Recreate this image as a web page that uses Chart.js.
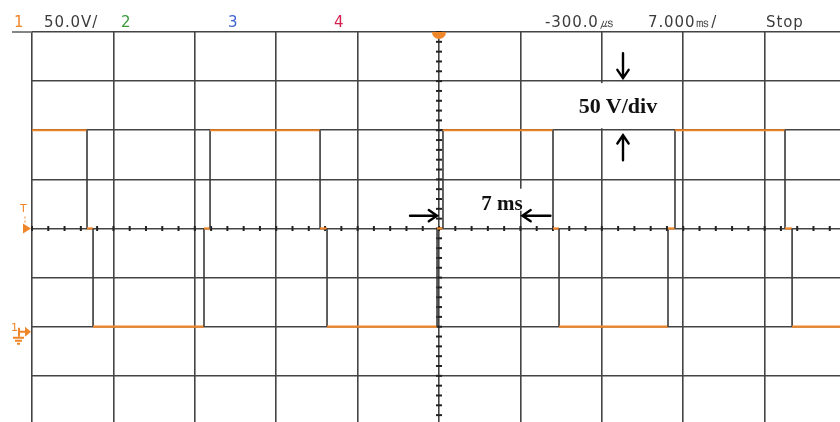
<!DOCTYPE html>
<html>
<head>
<meta charset="utf-8">
<script src="https://cdn.jsdelivr.net/npm/chart.js@4.4.1/dist/chart.umd.min.js"></script>
<style>
html,body{margin:0;padding:0;background:#fff;overflow:hidden;}
#wrap{position:relative;width:840px;height:422px;}
#wrap canvas{position:absolute;left:0;top:0;}
.hdr{position:absolute;top:13px;font-family:"DejaVu Sans",sans-serif;font-size:15px;line-height:18px;color:#3c3c3c;letter-spacing:0.9px;white-space:nowrap;}
.ann{position:absolute;font-family:"Liberation Serif","Times New Roman",serif;font-weight:bold;color:#111;text-align:center;white-space:nowrap;line-height:24px;height:24px;}
.mk{position:absolute;font-family:"DejaVu Sans",sans-serif;color:#f0862a;white-space:nowrap;}
</style>
</head>
<body>
<div id="wrap">
<canvas id="c" width="840" height="422"></canvas>
<div class="hdr" style="left:14px;color:#f0862a">1</div>
<div class="hdr" style="left:44px">50.0V/</div>
<div class="hdr" style="left:121px;color:#3a9a3a">2</div>
<div class="hdr" style="left:228px;color:#3f62d0">3</div>
<div class="hdr" style="left:334px;color:#d4204e">4</div>
<div class="hdr" style="left:545px">-300.0㎲</div>
<div class="hdr" style="left:648px">7.000㎳/</div>
<div class="hdr" style="left:766px">Stop</div>
<div class="ann" style="left:568px;top:94px;width:100px;font-size:22px">50 V/div</div>
<div class="ann" style="left:452px;top:191px;width:100px;font-size:21px">7 ms</div>
<div class="mk" style="left:20px;top:203px;font-size:11px;line-height:12px">T</div>
<div class="mk" style="left:11px;top:322px;font-size:11px;line-height:12px">1</div>
</div>
<script>
const timeEdgesMs = [-35, -30.27, -29.75, -20.21, -19.69, -10.23, -9.63, -0.17, 0.34, 9.80, 10.32, 19.69, 20.29, 29.75, 30.36, 34.48];
const levelsV     = [200, 100, 0, 100, 200, 100, 0, 100, 200, 100, 0, 100, 200, 100, 0];
const xRangeMs = [-35, 34.48];
const yRangeV  = [-97, 300];
const xDivMs = 7;
const yDivV  = 50;
const xCenterMs = 0;
const yCenterV  = 100;
const minorPerDiv = 5;

const ORANGE = '#f0862a';
const TRACE_GRAY = '#3a3a3a';
const GRID = '#444444';

const points = [];
for (let i = 0; i < levelsV.length; i++) {
  points.push({x: timeEdgesMs[i], y: levelsV[i]});
  points.push({x: timeEdgesMs[i + 1], y: levelsV[i]});
}

function arrow(ctx, x1, y1, x2, y2) {
  const a = Math.atan2(y2 - y1, x2 - x1);
  const h = 10, s = 0.6;
  ctx.beginPath();
  ctx.moveTo(x1, y1); ctx.lineTo(x2, y2);
  ctx.moveTo(x2 - h * Math.cos(a - s), y2 - h * Math.sin(a - s));
  ctx.lineTo(x2, y2);
  ctx.lineTo(x2 - h * Math.cos(a + s), y2 - h * Math.sin(a + s));
  ctx.stroke();
}

const scopePlugin = {
  id: 'scope',
  beforeDatasetsDraw(chart) {
    const {ctx, scales: {x, y}} = chart;
    ctx.save();
    ctx.strokeStyle = '#222';
    ctx.lineWidth = 2;
    const cy = y.getPixelForValue(yCenterV), cx = x.getPixelForValue(xCenterMs);
    const xs = xDivMs / minorPerDiv, ys = yDivV / minorPerDiv;
    for (let t = xRangeMs[0]; t <= xRangeMs[1]; t += xs) {
      const px = x.getPixelForValue(t);
      ctx.beginPath(); ctx.moveTo(px, cy - 2.5); ctx.lineTo(px, cy + 2.5); ctx.stroke();
    }
    for (let v = yRangeV[1]; v >= yRangeV[0]; v -= ys) {
      const py = y.getPixelForValue(v);
      ctx.beginPath(); ctx.moveTo(cx - 3, py); ctx.lineTo(cx + 3, py); ctx.stroke();
    }
    // top line extends to the left
    const ty = y.getPixelForValue(yRangeV[1]);
    ctx.strokeStyle = '#666'; ctx.lineWidth = 1.6;
    ctx.beginPath(); ctx.moveTo(12, ty); ctx.lineTo(chart.chartArea.left, ty); ctx.stroke();
    ctx.restore();
  },
  afterDatasetsDraw(chart) {
    const {ctx, scales: {x, y}} = chart;
    ctx.save();
    // trigger position marker (top centre)
    const cx = x.getPixelForValue(xCenterMs), ty = y.getPixelForValue(yRangeV[1]);
    ctx.fillStyle = ORANGE;
    ctx.beginPath(); ctx.arc(cx, ty, 7, 0, Math.PI); ctx.fill();
    // trigger level arrow
    const ly = y.getPixelForValue(yCenterV), left = chart.chartArea.left;
    ctx.beginPath(); ctx.moveTo(left - 9, ly - 5); ctx.lineTo(left - 1, ly); ctx.lineTo(left - 9, ly + 5); ctx.closePath(); ctx.fill();
    ctx.strokeStyle = ORANGE; ctx.lineWidth = 1;
    ctx.setLineDash([2, 2]);
    ctx.beginPath(); ctx.moveTo(left - 7, ly - 12); ctx.lineTo(left - 7, ly - 5); ctx.stroke();
    ctx.setLineDash([]);
    // ground marker
    const gy = y.getPixelForValue(0) + 7;
    ctx.lineWidth = 2;
    ctx.beginPath(); ctx.moveTo(left - 13, gy - 6); ctx.lineTo(left - 13, gy + 3); ctx.moveTo(left - 13, gy - 2); ctx.lineTo(left - 6, gy - 2); ctx.stroke();
    ctx.beginPath(); ctx.moveTo(left - 7, gy - 7); ctx.lineTo(left - 1, gy - 2); ctx.lineTo(left - 7, gy + 3); ctx.closePath(); ctx.fill();
    ctx.beginPath(); ctx.moveTo(left - 19, gy + 4); ctx.lineTo(left - 8, gy + 4); ctx.moveTo(left - 17, gy + 7); ctx.lineTo(left - 10, gy + 7); ctx.moveTo(left - 15, gy + 10); ctx.lineTo(left - 12, gy + 10); ctx.stroke();

    // white label boxes
    const ax = x.getPixelForValue(15.82);
    ctx.fillStyle = '#fff';
    ctx.fillRect(ax - 52, y.getPixelForValue(250) + 2, 108, y.getPixelForValue(200) - y.getPixelForValue(250) - 4);
    const sy = y.getPixelForValue(113);
    const x7 = x.getPixelForValue(xDivMs);
    ctx.fillRect(x7 - 42, sy - 27, 47, 22);
    // arrows
    ctx.strokeStyle = '#000'; ctx.lineWidth = 2.4; ctx.lineCap = 'round';
    arrow(ctx, ax, y.getPixelForValue(250) - 28, ax, y.getPixelForValue(250) - 3);
    arrow(ctx, ax, y.getPixelForValue(200) + 30, ax, y.getPixelForValue(200) + 5);
    arrow(ctx, cx - 29, sy, cx - 2, sy);
    arrow(ctx, x7 + 30, sy, x7 + 2, sy);
    ctx.restore();
  }
};

new Chart(document.getElementById('c'), {
  type: 'line',
  data: {
    datasets: [{
      data: points,
      borderColor: ORANGE,
      borderWidth: 2,
      pointRadius: 0,
      tension: 0,
      segment: {
        borderColor: c => c.p0.parsed.x === c.p1.parsed.x ? TRACE_GRAY : ORANGE,
        borderWidth: c => c.p0.parsed.x === c.p1.parsed.x ? 1.6 : 2.2
      }
    }]
  },
  options: {
    responsive: false,
    animation: false,
    devicePixelRatio: 1,
    layout: {padding: {left: 32, top: 32, right: 0, bottom: 0}},
    plugins: {legend: {display: false}, tooltip: {enabled: false}},
    scales: {
      x: {
        type: 'linear', min: xRangeMs[0], max: xRangeMs[1],
        ticks: {display: false, stepSize: xDivMs, includeBounds: false},
        grid: {color: GRID, lineWidth: 1.6, drawTicks: false},
        border: {display: false}
      },
      y: {
        type: 'linear', min: yRangeV[0], max: yRangeV[1],
        ticks: {display: false, stepSize: yDivV, includeBounds: false},
        grid: {color: GRID, lineWidth: 1.6, drawTicks: false},
        border: {display: false}
      }
    }
  },
  plugins: [scopePlugin]
});
</script>
</body>
</html>
